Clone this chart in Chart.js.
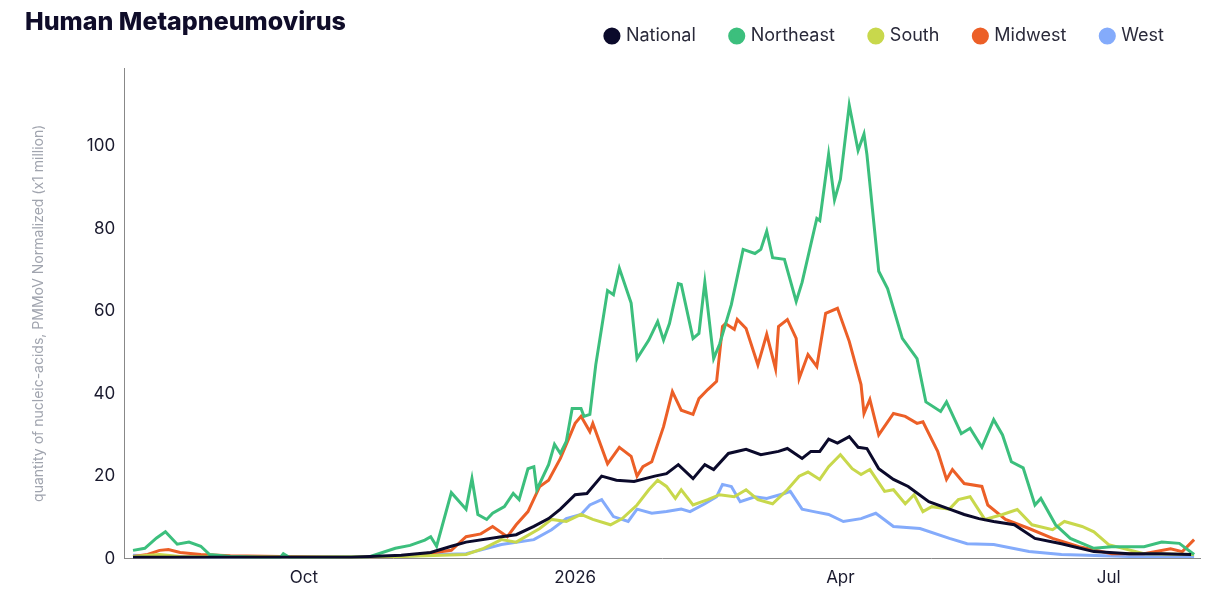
<!DOCTYPE html>
<html>
<head>
<meta charset="utf-8">
<script src="https://cdn.jsdelivr.net/npm/chart.js"></script>
<style>
  body { margin: 0; background: #fff; font-family: Inter, sans-serif; }
  #wrap { position: relative; width: 1232px; height: 608px; }
  #title { position: absolute; left: 25px; top: 6px; font-size: 25px; font-weight: 800; color: #0f0c29; }
</style>
</head>
<body>
<div id="wrap">
  <div id="title">Human Metapneumovirus</div>
  <canvas id="chart" width="1232" height="608"></canvas>
</div>
<script>
// x values are days since 1 Aug 2025
const tickDays = [61, 153, 243, 334];
const tickLabels = ['Oct', '2026', 'Apr', 'Jul'];

const nationalDays = [3, 43, 77, 94, 104, 111, 116, 128, 133, 139, 144, 148, 153, 157, 162, 167, 173, 180, 184, 188, 193, 197, 200, 205, 211, 216, 222, 225, 230, 233, 236, 239, 242, 246, 249, 252, 256, 261, 266, 273, 280, 285, 290, 295, 302, 309, 318, 329, 341, 352, 362];
const nationalVals = [0.3, 0.3, 0.3, 0.8, 1.5, 3, 4, 5.3, 5.8, 7.8, 9.7, 12, 15.5, 15.8, 20, 19, 18.7, 20, 20.6, 22.8, 19.4, 22.8, 21.6, 25.5, 26.5, 25.2, 26, 26.7, 24.3, 26, 26, 29, 28, 29.6, 27, 26.7, 21.8, 19.2, 17.5, 13.8, 12, 10.7, 9.7, 9, 8.2, 4.9, 3.6, 1.7, 1.2, 1.2, 1];

const northeastDays = [3, 7, 11, 14, 18, 22, 26, 29, 36, 46, 53, 54, 56, 70, 83, 92, 97, 102, 104, 106, 111, 116, 118, 120, 123, 125, 129, 132, 134, 137, 139, 140, 144, 146, 148, 150, 152, 155, 156, 158, 160, 162, 164, 166, 168, 172, 174, 178, 181, 183, 185, 188, 189, 193, 195, 197, 200, 202, 206, 210, 214, 216, 218, 220, 224, 228, 230, 235, 236, 239, 241, 243, 246, 249, 251, 252, 256, 259, 264, 269, 272, 277, 279, 284, 287, 291, 295, 298, 301, 305, 309, 311, 316, 321, 329, 335, 346, 352, 358, 363];
const northeastVals = [2, 2.5, 5, 6.5, 3.5, 4, 3, 1, 0.5, 0.3, 0.3, 1.2, 0.3, 0.3, 0.4, 2.5, 3.2, 4.5, 5.3, 3, 16, 12, 19.4, 10.7, 9.5, 11, 12.6, 15.8, 14.3, 21.8, 22.3, 16.7, 22.8, 27.7, 25.5, 28.4, 36.4, 36.4, 34.5, 35, 47, 56, 65, 64, 70.4, 62, 48.5, 53, 57.5, 53, 57, 66.7, 66.5, 53.4, 54.6, 67, 48.5, 52, 61.6, 75, 74, 75, 79.4, 73, 72.6, 62.4, 67, 82.5, 82, 98, 87, 92, 110, 99, 103, 98, 69.7, 65.5, 53.4, 48.5, 38, 35.7, 38, 30.3, 31.6, 27, 33.7, 30, 23.5, 22, 13, 14.6, 8.2, 4.9, 2.5, 2.9, 2.9, 4, 3.7, 1];

const southDays = [3, 12, 19, 60, 94, 116, 122, 128, 133, 141, 145, 150, 155, 159, 165, 169, 174, 178, 181, 184, 187, 189, 193, 198, 202, 207, 211, 215, 220, 225, 229, 232, 236, 239, 243, 247, 250, 253, 258, 261, 265, 268, 271, 274, 280, 283, 287, 292, 298, 303, 308, 315, 319, 325, 329, 334, 346, 363];
const southVals = [0.5, 1, 0.5, 0.3, 0.5, 1, 2.5, 4.6, 4, 7.3, 9.5, 9, 10.7, 9.5, 8.2, 9.7, 13, 16.7, 19, 17.5, 14.6, 16.7, 13, 14.3, 15.5, 15, 16.7, 14.3, 13.3, 16.7, 20, 21, 19.2, 22.3, 25.2, 21.8, 20.4, 21.6, 16.3, 16.7, 13.3, 15.5, 11.4, 12.6, 12, 14.3, 15, 9.5, 10.7, 11.9, 8.2, 7, 9, 7.8, 6.5, 3.4, 1.2, 1];

const midwestDays = [3, 8, 12, 15, 19, 26, 36, 53, 77, 94, 100, 111, 116, 121, 125, 130, 133, 137, 141, 144, 148, 150, 153, 155, 158, 159, 164, 168, 172, 174, 176, 179, 183, 186, 189, 193, 195, 198, 201, 203, 204, 207, 208, 211, 215, 218, 221, 222, 225, 228, 229, 232, 235, 238, 242, 246, 250, 251, 253, 256, 261, 265, 269, 271, 276, 279, 281, 285, 291, 293, 299, 307, 315, 324, 335, 346, 355, 359, 363];
const midwestVals = [0.5, 1, 2, 2.2, 1.5, 1, 0.7, 0.5, 0.3, 0.5, 1, 2, 5.3, 6, 7.8, 5.3, 8.2, 11.4, 17.5, 19, 24.3, 27.7, 32.8, 34.5, 30.8, 32.8, 23, 27, 24.8, 20, 22.3, 23.5, 32, 40.5, 36, 35, 38.8, 41, 43, 56.3, 57, 55.6, 58, 55.8, 47, 54.4, 46, 56.3, 58, 53.4, 43.7, 49.5, 46.6, 59.5, 60.7, 52.7, 42.2, 35.2, 38.6, 30, 35.2, 34.5, 32.8, 33.2, 26, 19.2, 21.6, 18.2, 17.5, 13, 9.5, 7.3, 4.9, 2.9, 1.2, 1.2, 2.4, 1.7, 4.6];

const westDays = [3, 26, 60, 94, 107, 116, 128, 139, 145, 150, 155, 158, 162, 166, 171, 174, 179, 184, 189, 192, 197, 201, 203, 206, 209, 214, 218, 224, 226, 230, 234, 239, 244, 250, 255, 261, 270, 280, 286, 295, 307, 318, 341, 363];
const westVals = [0.8, 0.3, 0.2, 0.5, 1, 1.2, 3.4, 4.6, 7, 9.7, 10.7, 13, 14.3, 10.2, 9, 12, 11, 11.4, 12, 11.4, 13.3, 15, 18, 17.5, 13.8, 15, 14.6, 15.8, 16.3, 12, 11.4, 10.7, 9, 9.7, 11, 7.8, 7.3, 4.9, 3.6, 3.4, 1.7, 1, 0.5, 0.5];

function pts(days, vals) {
  return days.map((d, i) => ({ x: d, y: vals[i] }));
}

function series(label, days, vals, color) {
  return {
    label: label,
    data: pts(days, vals),
    borderColor: color,
    backgroundColor: color,
    borderWidth: 3,
    pointRadius: 0,
    tension: 0
  };
}

// extra space under the legend
const legendGap = {
  id: 'legendGap',
  beforeInit(chart) {
    const fit = chart.legend.fit;
    chart.legend.fit = function() {
      fit.call(this);
      this.height += 13;
    };
  }
};

const ctx = document.getElementById('chart').getContext('2d');
new Chart(ctx, {
  type: 'line',
  data: {
    datasets: [
      series('National', nationalDays, nationalVals, '#0b0a2b'),
      series('Northeast', northeastDays, northeastVals, '#3cbf7d'),
      series('South', southDays, southVals, '#c8d84c'),
      series('Midwest', midwestDays, midwestVals, '#ec5f27'),
      series('West', westDays, westVals, '#84abfb')
    ]
  },
  options: {
    responsive: false,
    animation: false,
    layout: { padding: { top: -9, right: 32, left: 30, bottom: 17 } },
    plugins: {
      tooltip: { enabled: false },
      legend: {
        position: 'top',
        align: 'end',
        labels: {
          usePointStyle: true,
          pointStyle: 'circle',
          boxWidth: 10,
          boxHeight: 10,
          padding: 36,
          color: '#2a2a3a',
          font: { family: 'Inter', size: 18 }
        }
      }
    },
    scales: {
      x: {
        type: 'linear',
        min: 0,
        max: 365,
        grid: { display: false, drawTicks: true, tickLength: 6, tickColor: '#888' },
        border: { color: '#888' },
        afterBuildTicks: axis => { axis.ticks = tickDays.map(v => ({ value: v })); },
        ticks: {
          color: '#1a1a2e',
          font: { family: 'Inter', size: 17 },
          maxRotation: 0,
          callback: v => tickLabels[tickDays.indexOf(v)]
        }
      },
      y: {
        min: 0,
        max: 119,
        grid: { display: false, tickLength: 6, tickColor: '#888' },
        border: { color: '#888' },
        afterBuildTicks: axis => { axis.ticks = [0, 20, 40, 60, 80, 100].map(v => ({ value: v })); },
        ticks: {
          color: '#1a1a2e',
          font: { family: 'Inter', size: 17 }
        },
        title: {
          display: true,
          text: 'quantity of nucleic-acids, PMMoV Normalized (x1 million)',
          color: '#a0a4ae',
          font: { family: 'Inter', size: 14 },
          padding: { top: 0, bottom: 37 }
        }
      }
    }
  },
  plugins: [legendGap]
});
</script>
</body>
</html>
